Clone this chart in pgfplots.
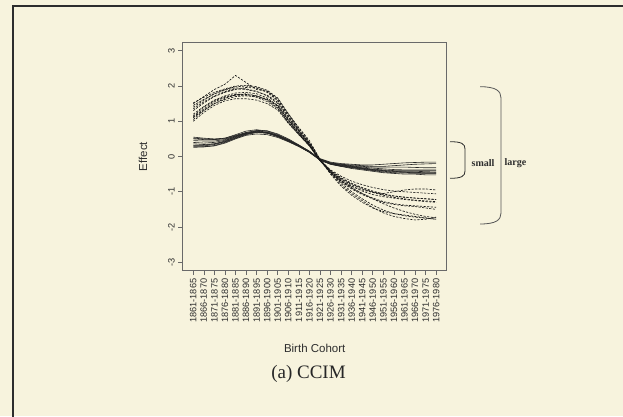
\documentclass[border=0pt]{standalone}
\usepackage{pgfplots}
\pgfplotsset{compat=1.18}
\usepackage{pgfplotstable}
\usepackage{fontspec}
\setmainfont{Liberation Sans}
\newfontfamily\timesfont{Liberation Serif}

\definecolor{paper}{RGB}{247,243,221}
\definecolor{ink}{RGB}{45,45,45}
\definecolor{boxgray}{RGB}{105,105,105}

% small effects (solid lines), one column per run
\pgfplotstableread{
i  s1    s2    s3    s4    s5    s6    s7    s8    s9    s10
1  0.55  0.50  0.32  0.28  0.36  0.45  0.30  0.52  0.26  0.40
2  0.52  0.48  0.32  0.28  0.34  0.44  0.30  0.50  0.27  0.38
3  0.50  0.48  0.36  0.30  0.36  0.44  0.34  0.48  0.31  0.40
4  0.52  0.52  0.44  0.38  0.42  0.48  0.42  0.50  0.40  0.46
5  0.60  0.62  0.56  0.50  0.54  0.58  0.52  0.58  0.52  0.56
6  0.68  0.72  0.66  0.60  0.64  0.68  0.62  0.66  0.63  0.65
7  0.72  0.76  0.70  0.64  0.70  0.74  0.68  0.70  0.69  0.72
8  0.68  0.72  0.67  0.62  0.68  0.73  0.66  0.66  0.67  0.70
9  0.58  0.62  0.57  0.54  0.60  0.64  0.58  0.56  0.59  0.60
10 0.45  0.48  0.44  0.42  0.47  0.50  0.46  0.43  0.46  0.46
11 0.30  0.32  0.29  0.28  0.31  0.33  0.30  0.29  0.30  0.31
12 0.14  0.15  0.12  0.12  0.13  0.15  0.12  0.13  0.13  0.14
13 -0.06 -0.08 -0.10 -0.08 -0.10 -0.08 -0.10 -0.07 -0.09 -0.09
14 -0.16 -0.20 -0.20 -0.18 -0.22 -0.19 -0.22 -0.18 -0.21 -0.20
15 -0.20 -0.26 -0.24 -0.22 -0.28 -0.24 -0.28 -0.22 -0.27 -0.25
16 -0.22 -0.30 -0.28 -0.26 -0.34 -0.27 -0.32 -0.24 -0.31 -0.29
17 -0.24 -0.34 -0.32 -0.28 -0.38 -0.30 -0.36 -0.26 -0.35 -0.33
18 -0.24 -0.38 -0.36 -0.30 -0.42 -0.33 -0.40 -0.28 -0.39 -0.37
19 -0.22 -0.40 -0.38 -0.30 -0.46 -0.35 -0.44 -0.28 -0.42 -0.40
20 -0.20 -0.42 -0.40 -0.30 -0.48 -0.37 -0.46 -0.26 -0.44 -0.42
21 -0.18 -0.42 -0.40 -0.30 -0.50 -0.38 -0.47 -0.24 -0.45 -0.44
22 -0.17 -0.42 -0.40 -0.31 -0.50 -0.38 -0.48 -0.22 -0.46 -0.45
23 -0.16 -0.43 -0.40 -0.32 -0.52 -0.38 -0.48 -0.21 -0.47 -0.46
24 -0.16 -0.44 -0.40 -0.32 -0.52 -0.38 -0.48 -0.20 -0.47 -0.46
}\smalltab

% large effects (dashed lines)
\pgfplotstableread{
i  d1    d2    d3    d4    d5    d6    d7    d8    d9    d10   d11   d12
1  1.50  1.05  1.45  1.20  1.12  1.30  1.00  1.52  1.15  1.35  1.10  1.40
2  1.70  1.30  1.62  1.42  1.35  1.52  1.25  1.68  1.40  1.55  1.32  1.60
3  1.90  1.50  1.78  1.60  1.55  1.70  1.45  1.82  1.58  1.72  1.50  1.78
4  2.05  1.65  1.88  1.72  1.68  1.82  1.58  1.92  1.70  1.84  1.62  1.90
5  2.30  1.75  1.95  1.80  1.74  1.90  1.64  2.00  1.76  1.92  1.70  1.98
6  2.10  1.78  1.92  1.82  1.74  1.96  1.64  2.02  1.76  1.90  1.72  2.00
7  1.90  1.72  1.85  1.78  1.68  1.94  1.60  1.98  1.72  1.84  1.70  1.95
8  1.85  1.60  1.72  1.66  1.56  1.82  1.50  1.88  1.62  1.74  1.62  1.86
9  1.60  1.38  1.50  1.45  1.36  1.58  1.32  1.66  1.42  1.54  1.44  1.64
10 1.20  0.98  1.08  1.04  0.96  1.14  0.94  1.22  1.02  1.12  1.04  1.18
11 0.82  0.64  0.72  0.68  0.62  0.74  0.62  0.80  0.66  0.72  0.66  0.76
12 0.45  0.32  0.38  0.34  0.30  0.36  0.30  0.40  0.32  0.34  0.30  0.38
13 -0.08 -0.10 -0.08 -0.10 -0.12 -0.10 -0.12 -0.08 -0.11 -0.12 -0.10 -0.09
14 -0.45 -0.45 -0.40 -0.48 -0.42 -0.44 -0.40 -0.50 -0.38 -0.46 -0.42 -0.42
15 -0.70 -0.75 -0.62 -0.80 -0.64 -0.70 -0.60 -0.84 -0.56 -0.72 -0.68 -0.66
16 -0.85 -1.00 -0.78 -1.05 -0.80 -0.90 -0.76 -1.10 -0.70 -0.92 -0.88 -0.84
17 -0.95 -1.20 -0.90 -1.25 -0.92 -1.05 -0.88 -1.30 -0.80 -1.08 -1.05 -0.98
18 -1.02 -1.38 -1.00 -1.45 -1.02 -1.18 -0.98 -1.46 -0.88 -1.20 -1.20 -1.08
19 -1.05 -1.52 -1.08 -1.60 -1.10 -1.28 -1.06 -1.56 -0.94 -1.30 -1.34 -1.14
20 -1.00 -1.62 -1.12 -1.70 -1.16 -1.34 -1.12 -1.62 -0.98 -1.36 -1.46 -1.18
21 -0.95 -1.68 -1.15 -1.76 -1.20 -1.38 -1.16 -1.66 -1.00 -1.40 -1.56 -1.22
22 -0.92 -1.72 -1.18 -1.80 -1.24 -1.40 -1.18 -1.70 -1.02 -1.42 -1.64 -1.25
23 -0.92 -1.75 -1.20 -1.78 -1.26 -1.42 -1.20 -1.74 -1.04 -1.46 -1.70 -1.28
24 -0.95 -1.78 -1.22 -1.72 -1.28 -1.44 -1.22 -1.78 -1.06 -1.50 -1.74 -1.30
}\largetab

\begin{document}
\begin{tikzpicture}[x=1pt,y=1pt]
\fill[paper] (0,0) rectangle (623,416);
\useasboundingbox (0,0) rectangle (623,416);
% page frame
\draw[ink, line width=1.4pt] (13,-2) -- (13,410) -- (625,410);

\begin{axis}[
    at={(182.7pt,145.3pt)}, anchor=south west,
    scale only axis,
    width=264pt, height=228.4pt,
    xmin=0, xmax=25,
    ymin=-3.24, ymax=3.24,
    axis line style={boxgray, line width=0.6pt},
    tick align=outside,
    xtick pos=left, ytick pos=left,
    major tick length=4.5pt,
    tick style={boxgray, line width=0.6pt},
    xtick={1,...,24},
    xticklabels={1861-1865,1866-1870,1871-1875,1876-1880,1881-1885,1886-1890,
        1891-1895,1896-1900,1901-1905,1906-1910,1911-1915,1916-1920,
        1921-1925,1926-1930,1931-1935,1936-1940,1941-1945,1946-1950,
        1951-1955,1956-1960,1961-1965,1966-1970,1971-1975,1976-1980},
    xticklabel style={rotate=90, anchor=east, text=ink,
        font=\fontsize{9.2}{10}\selectfont},
    ytick={-3,...,3},
    yticklabels={-3,-2,-1,0,1,2,3},
    yticklabel style={rotate=90, anchor=south, text=ink,
        font=\fontsize{9.2}{10}\selectfont},
    xlabel={Birth Cohort},
    ylabel={Effect},
    every axis x label/.style={at={(axis description cs:0.5,-0.3385)},
        anchor=center, text=ink,
        font=\fontsize{11.5}{12}\selectfont},
    every axis y label/.style={at={(axis description cs:-0.1504,0.5)},
        rotate=90, anchor=center, text=ink,
        font=\fontsize{11.5}{12}\selectfont},
    solidrun/.style={black!85, line width=0.6pt, no markers},
    dashrun/.style={black!90, line width=0.65pt, no markers,
        dash pattern=on 2.2pt off 1.4pt},
]
\pgfplotsinvokeforeach{1,...,10}{
    \addplot[solidrun] table[x=i, y=s#1] {\smalltab};
}
\pgfplotsinvokeforeach{1,...,12}{
    \addplot[dashrun] table[x=i, y=d#1] {\largetab};
}
\end{axis}

% brackets marking the two groups
\draw[ink, line width=0.8pt]
    (450,274.3) .. controls (462,274.3) and (465,272) .. (465,267)
    -- (465,245) .. controls (465,240) and (462,237.7) .. (450,237.7);
\draw[ink!80, line width=0.8pt]
    (480,329.3) .. controls (496,329.3) and (501,325) .. (501,318)
    -- (501,203) .. controls (501,196) and (496,192) .. (480,192);
\node[text=ink, font=\timesfont\bfseries\fontsize{10}{11}\selectfont] at (483,253) {small};
\node[text=ink, font=\timesfont\bfseries\fontsize{10}{11}\selectfont] at (515.5,253) {large};

\node[text=black!85, font=\timesfont\fontsize{19}{22}\selectfont] at (308.5,42) {(a) CCIM};
\end{tikzpicture}
\end{document}
